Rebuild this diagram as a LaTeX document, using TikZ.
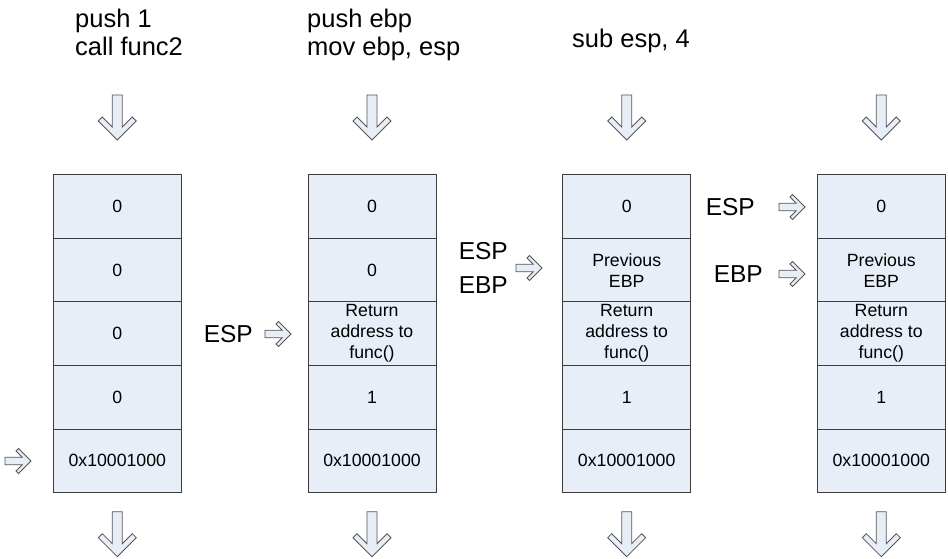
\documentclass[tikz,border=0pt]{standalone}
\usepackage{fontspec}
\setmainfont{Liberation Sans}
\usetikzlibrary{positioning}

\begin{document}
\begin{tikzpicture}[x=1pt, y=-1pt,
  cell/.style={draw=cellline, fill=cellfill, line width=1pt, minimum width=128pt,
    minimum height=63.6pt, inner sep=0pt, outer sep=0pt, align=center,
    font=\fontsize{17.7}{21}\selectfont},
  cmd/.style={anchor=north west, inner sep=0pt, align=left,
    font=\fontsize{25.5}{27.3}\selectfont},
  reg/.style={inner sep=0pt, align=left, font=\fontsize{24.5}{34}\selectfont},
  arrowline/.style={draw=arrowgray, fill=arrowfill, line width=0.8pt},
  downarrow/.pic={\filldraw[arrowline] (-5,0) -- (5,0) -- (5,32) -- (15,22) -- (19,26)
    -- (0,45) -- (-19,26) -- (-15,22) -- (-5,32) -- cycle;},
  rightarrow/.pic={\filldraw[arrowline] (0,-3.8) -- (17.2,-3.8) -- (11,-10) -- (13.5,-12.5)
    -- (26,0) -- (13.5,12.5) -- (11,10) -- (17.2,3.8) -- (0,3.8) -- cycle;}]
  % colors close to the figure
  \definecolor{cellfill}{RGB}{232,238,248}
  \definecolor{cellline}{RGB}{60,60,60}
  \definecolor{arrowfill}{RGB}{232,238,248}
  \definecolor{arrowgray}{RGB}{85,85,85}

  \useasboundingbox (0,0) rectangle (948,559);

  % instructions above the stacks
  \node[cmd] (op1) at (75,9.1) {push 1\\call func2};
  \node[cmd] (op2) at (307,9.1) {push ebp\\mov ebp, esp};
  \node[cmd] (op3) at (572,28.4) {sub esp, 4};

  % stack 1
  \node[cell] (a1) at (117.3,206.5) {0};
  \node[cell, below=0pt of a1] (a2) {0};
  \node[cell, below=0pt of a2] (a3) {0};
  \node[cell, below=0pt of a3] (a4) {0};
  \node[cell, below=0pt of a4] (a5) {0x10001000};

  % stack 2
  \node[cell] (b1) at (372,206.5) {0};
  \node[cell, below=0pt of b1] (b2) {0};
  \node[cell, below=0pt of b2] (b3) {Return\\address to\\func()};
  \node[cell, below=0pt of b3] (b4) {1};
  \node[cell, below=0pt of b4] (b5) {0x10001000};

  % stack 3
  \node[cell] (c1) at (626.7,206.5) {0};
  \node[cell, below=0pt of c1] (c2) {Previous\\EBP};
  \node[cell, below=0pt of c2] (c3) {Return\\address to\\func()};
  \node[cell, below=0pt of c3] (c4) {1};
  \node[cell, below=0pt of c4] (c5) {0x10001000};

  % stack 4
  \node[cell] (d1) at (881.3,206.5) {0};
  \node[cell, below=0pt of d1] (d2) {Previous\\EBP};
  \node[cell, below=0pt of d2] (d3) {Return\\address to\\func()};
  \node[cell, below=0pt of d3] (d4) {1};
  \node[cell, below=0pt of d4] (d5) {0x10001000};

  % down arrows above and below each stack
  \pic at (117.3,95) {downarrow};
  \pic at (372,95) {downarrow};
  \pic at (626.7,95) {downarrow};
  \pic at (881.3,95) {downarrow};
  \pic at (117.3,511.7) {downarrow};
  \pic at (372,511.7) {downarrow};
  \pic at (626.7,511.7) {downarrow};
  \pic at (881.3,511.7) {downarrow};

  % register pointers
  \coordinate (pa) at (5,461);
  \coordinate (pb) at (265,334);
  \coordinate (pc) at (516,268);
  \coordinate (pd) at (779,207);
  \coordinate (pe) at (779,274);
  \pic at (pa) {rightarrow};
  \pic at (pb) {rightarrow};
  \pic at (pc) {rightarrow};
  \pic at (pd) {rightarrow};
  \pic at (pe) {rightarrow};
  \node[reg, left=12pt of pb] (espb) {ESP};
  \node[reg, left=8pt of pc] (espc) {ESP\\EBP};
  \node[reg, left=24pt of pd] (espd) {ESP};
  \node[reg, left=16pt of pe] (ebpd) {EBP};
\end{tikzpicture}
\end{document}
